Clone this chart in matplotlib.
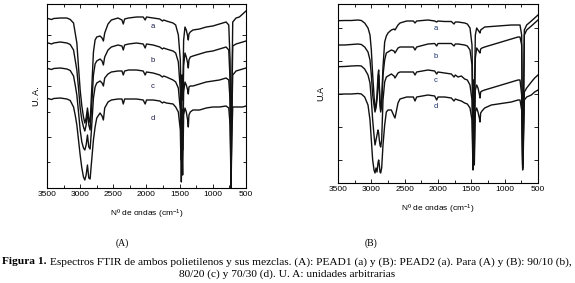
import numpy as np
import matplotlib.pyplot as plt
from matplotlib.ticker import MultipleLocator

# FTIR spectra. Values are "absorption depth" in arbitrary units
# (plotted on an inverted axis so that bands point down, like transmittance).

# ---- panel A: PEAD1 ----
wn_A = [3500, 3430, 3400, 3300, 3200, 3150, 3100, 3075, 3050, 3025, 3000, 2975, 2950, 2930,
        2910, 2890, 2870, 2850, 2830, 2800, 2775, 2750, 2700, 2670, 2650, 2630, 2580, 2530,
        2430, 2370, 2350, 2330, 2270, 2150, 2050, 2020, 2000, 1900, 1800, 1760, 1740, 1700,
        1600, 1560, 1520, 1490, 1475, 1465, 1455, 1440, 1420, 1400, 1380, 1370, 1360, 1340,
        1300, 1200, 1100, 1000, 900, 800, 760, 740, 725, 715, 700, 650, 600, 550, 500]
A_a = [18.3, 19.5, 18.5, 18, 18, 19.5, 23, 33, 43, 67, 90, 106, 117, 123,
       118, 108, 118, 123, 95, 52, 40, 37, 36, 38, 41, 33, 24, 20,
       18, 20, 24, 19, 18, 17, 17, 20, 17, 18, 19, 21, 20, 21,
       23, 25, 35, 60, 110, 75, 100, 40, 27, 30, 36, 40, 34, 32,
       30, 29, 27, 26, 24, 22, 25, 60, 188, 100, 22, 18, 17, 14, 11]
A_b = [42.7, 44, 43, 42, 43, 44.5, 50, 60, 70, 88, 108, 120, 127, 131,
       125, 112, 125, 130, 110, 75, 64, 61, 59, 61, 65, 57, 50, 47,
       45, 46, 50, 45, 44, 43, 44, 48, 44, 45, 47, 49, 48, 49,
       51, 53, 62, 90, 140, 110, 130, 66, 53, 57, 63, 68, 60, 57,
       56, 54, 52, 51, 49, 47, 50, 80, 188, 110, 46, 44, 43, 42, 41]
A_c = [68.3, 69.5, 68.5, 68, 69, 70.5, 76, 85, 95, 112, 130, 142, 148, 150,
       145, 135, 147, 149, 130, 98, 87, 83, 81, 83, 86, 78, 74, 72,
       71, 71, 75, 71, 70, 70, 71, 75, 72, 73, 75, 77, 76, 77,
       80, 82, 88, 110, 160, 130, 150, 92, 82, 85, 90, 94, 87, 86,
       86, 84, 82, 81, 80, 78, 80, 100, 188, 120, 75, 71, 70, 69, 68]
A_d = [98.3, 99.5, 98.5, 98, 99, 100.5, 107, 115, 125, 140, 155, 168, 177, 180,
       175, 165, 178, 179, 163, 140, 127, 118, 113, 116, 120, 108, 102, 100,
       99, 99, 104, 99, 99, 99, 100, 104, 100, 100, 101, 103, 102, 103,
       104, 107, 112, 130, 182, 150, 175, 115, 108, 112, 120, 127, 115, 112,
       110, 110, 108, 107, 107, 106, 108, 125, 188, 140, 107, 107, 107, 107, 106]

# ---- panel B: PEAD2 ----
wn_B = [3500, 3400, 3300, 3200, 3150, 3100, 3050, 3020, 3000, 2980, 2960, 2945, 2930, 2915,
        2900, 2890, 2880, 2870, 2860, 2845, 2825, 2800, 2775, 2750, 2700, 2660, 2645, 2600,
        2570, 2470, 2370, 2345, 2320, 2150, 2050, 2020, 2000, 1900, 1800, 1760, 1740, 1700,
        1650, 1600, 1560, 1520, 1490, 1475, 1465, 1455, 1440, 1420, 1400, 1380, 1370, 1360,
        1340, 1300, 1200, 1100, 1000, 900, 800, 770, 745, 730, 720, 705, 670, 600, 550, 500]
B_a = [20.7, 20.5, 20.5, 20, 20.5, 23, 28, 35, 50, 75, 95, 110, 105, 95,
       75, 70, 85, 100, 110, 100, 67, 42, 36, 33, 30, 29, 30, 25,
       23, 21, 21, 23, 21, 20, 21, 22, 21, 21.5, 21.5, 24, 22, 22,
       22.5, 23, 24, 28, 45, 110, 80, 100, 35, 28, 30, 32, 33, 30,
       29, 27, 26.5, 26, 25.5, 25, 25, 25, 35, 165, 120, 30, 25, 21, 18, 15]
B_b = [45, 45, 44.5, 44, 44.5, 47, 52, 60, 75, 95, 105, 112, 108, 100,
       85, 75, 90, 105, 112, 105, 75, 60, 53, 52, 50, 51, 53, 48,
       47, 47, 47, 50, 47, 44, 43.5, 46, 43.5, 43.5, 43.5, 46, 44, 44,
       44.5, 45, 46, 50, 65, 140, 110, 125, 58, 48, 50, 52, 53, 49,
       48, 47, 45, 43, 41, 39, 37, 37, 45, 165, 130, 35, 30, 26, 23, 20]
B_c = [66.7, 66.5, 66, 65.7, 66, 69, 75, 83, 100, 120, 135, 145, 140, 135,
       130, 133, 140, 145, 147, 140, 100, 82, 77, 76, 74, 76, 78, 73,
       72, 72, 72, 75, 72, 70, 71, 74, 72, 73, 74, 77, 75, 77,
       76, 79, 80, 85, 100, 165, 130, 150, 90, 85, 88, 94, 98, 92,
       91, 90, 88, 86, 84, 82, 80, 80, 95, 168, 140, 92, 88, 82, 78, 75]
B_d = [94.3, 94, 94, 93.5, 94, 97, 105, 120, 140, 160, 170, 173, 168, 172,
       163, 160, 165, 172, 173, 168, 145, 125, 112, 110, 110, 116, 118, 103,
       99, 97, 97, 101, 97, 95, 96, 100, 97, 97, 98, 101, 99, 100,
       101, 103, 104, 108, 120, 170, 150, 165, 112, 108, 112, 118, 122, 113,
       111, 108, 105, 104, 103, 102, 100, 100, 110, 170, 150, 100, 97, 95, 92, 90]

curve_names = ["a", "b", "c", "d"]
label_wn_A = 1910
label_ua_A = [27, 60, 87, 118]
label_wn_B = 2035
label_ua_B = [28, 57, 81, 107]

W, H = 575, 283
plt.rcParams['font.family'] = ['Liberation Sans', 'DejaVu Sans']
plt.rcParams['mathtext.default'] = 'regular'
fig = plt.figure(figsize=(W / 100, H / 100), dpi=100)


def px_axes(x0, y0, x1, y1):
    return fig.add_axes([x0 / W, 1 - y1 / H, (x1 - x0) / W, (y1 - y0) / H])


def style_axes(ax, ylim, yticks_major, yticks_minor):
    ax.set_xlim(3500, 500)
    ax.set_ylim(*ylim)
    ax.xaxis.set_major_locator(MultipleLocator(500))
    ax.xaxis.set_minor_locator(MultipleLocator(250))
    ax.set_yticks(yticks_major)
    ax.set_yticks(yticks_minor, minor=True)
    ax.set_yticklabels([])
    ax.tick_params(which='both', direction='in', top=True, right=True,
                   labelsize=6, pad=2, width=0.6)
    ax.tick_params(which='major', length=3)
    ax.tick_params(which='minor', length=2)
    for s in ax.spines.values():
        s.set_linewidth(0.8)
    ax.set_xlabel("Nº de ondas (cm$^{-1}$)", fontsize=6, labelpad=7)


axA = px_axes(47, 4, 246, 188)
for ys in [A_a, A_b, A_c, A_d]:
    axA.plot(wn_A, ys, color='#111111', lw=1.0)
for name, ua in zip(curve_names, label_ua_A):
    axA.text(label_wn_A, ua, name, fontsize=5.5, color='#1c1c4a', ha='center', va='center')
style_axes(axA, (188, 4), [35, 86, 137], [61, 112, 162])
axA.set_ylabel("U. A.", fontsize=6.5, labelpad=2)

axB = px_axes(338, 4, 538, 183)
for ys in [B_a, B_b, B_c, B_d]:
    axB.plot(wn_B, ys, color='#111111', lw=1.0)
for name, ua in zip(curve_names, label_ua_B):
    axB.text(label_wn_B, ua, name, fontsize=5.5, color='#1c2f6a', ha='center', va='center')
style_axes(axB, (183, 4), [28, 61, 94, 127, 160], [])
axB.set_ylabel("U.A", fontsize=6.5, labelpad=7)

serif = ['Liberation Serif', 'DejaVu Serif']
fig.text(122 / W, 1 - 243 / H, "(A)", family=serif, fontsize=7, ha='center', va='center')
fig.text(371 / W, 1 - 243 / H, "(B)", family=serif, fontsize=7, ha='center', va='center')

cap_fs = 8.2
bold = fig.text(2 / W, 1 - 262 / H, "Figura 1.", family=serif, fontsize=cap_fs,
                weight='bold', ha='left', va='center')
r = fig.canvas.get_renderer()
bx = bold.get_window_extent(r).x1
fig.text((bx + 3) / W, 1 - 262 / H,
         "Espectros FTIR de ambos polietilenos y sus mezclas. (A): PEAD1 (a) y (B): PEAD2 (a). "
         "Para (A) y (B): 90/10 (b),",
         family=serif, fontsize=cap_fs, ha='left', va='center')
fig.text(287 / W, 1 - 274 / H, "80/20 (c) y 70/30 (d). U. A: unidades arbitrarias",
         family=serif, fontsize=cap_fs, ha='center', va='center')

fig.savefig("out.png", dpi=100)
